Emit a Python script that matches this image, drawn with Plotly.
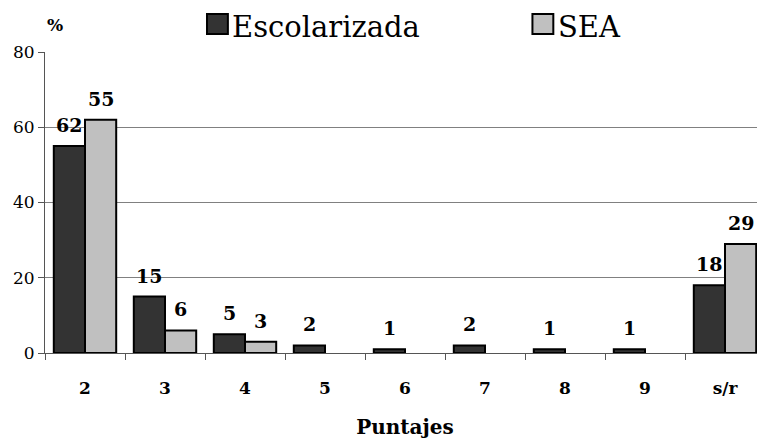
import plotly.graph_objects as go

categories = ["2", "3", "4", "5", "6", "7", "8", "9", "s/r"]
escolarizada = [55, 15, 5, 2, 1, 2, 1, 1, 18]
sea = [62, 6, 3, None, None, None, None, None, 29]
esc_labels = ["62", "15", "5", "2", "1", "2", "1", "1", "18"]
sea_labels = ["55", "6", "3", "", "", "", "", "", "29"]
y_ticks = [0, 20, 40, 60, 80]
series_names = ["Escolarizada", "SEA"]
series_colors = ["#333333", "#c0c0c0"]

FONT = "DejaVu Serif"
lbl_font = dict(family=FONT, size=19, color="black")

fig = go.Figure()
fig.add_trace(go.Bar(
    x=categories, y=escolarizada, name=series_names[0], showlegend=False,
    marker=dict(color=series_colors[0], line=dict(color="black", width=2)),
))
fig.add_trace(go.Bar(
    x=categories, y=sea, name=series_names[1], showlegend=False,
    marker=dict(color=series_colors[1], line=dict(color="black", width=2)),
))

annotations = []
BAR_HALF = 15.6
for i, (v, t) in enumerate(zip(escolarizada, esc_labels)):
    if t:
        annotations.append(dict(x=i, y=v, text="<b>%s</b>" % t, xshift=-BAR_HALF, yshift=8,
                                yanchor="bottom", showarrow=False, font=lbl_font))
for i, (v, t) in enumerate(zip(sea, sea_labels)):
    if t and v is not None:
        annotations.append(dict(x=i, y=v, text="<b>%s</b>" % t, xshift=BAR_HALF, yshift=8,
                                yanchor="bottom", showarrow=False, font=lbl_font))
annotations.append(dict(text="<b>%</b>", xref="paper", yref="paper", x=0.0, y=1.0,
                        xanchor="left", yanchor="bottom", yshift=15, showarrow=False,
                        font=dict(family=FONT, size=17, color="black")))

# manual legend (large boxes like the reference)
legend_box_x = [0.225, 0.677]
shapes = []
for name, color, bx in zip(series_names, series_colors, legend_box_x):
    shapes.append(dict(type="rect", xref="paper", yref="paper",
                       x0=bx, x1=bx + 0.029, y0=1.06, y1=1.126,
                       fillcolor=color, line=dict(color="black", width=2)))
    annotations.append(dict(text=name, xref="paper", yref="paper", x=bx + 0.034, y=1.082,
                            xanchor="left", yanchor="middle", showarrow=False, borderpad=0,
                            font=dict(family=FONT, size=29, color="black")))

fig.update_layout(
    width=757, height=433,
    margin=dict(l=37, r=0, t=44, b=88, autoexpand=False),
    paper_bgcolor="white", plot_bgcolor="white",
    barmode="group", bargap=0.22, bargroupgap=0,
    font=dict(family=FONT, color="black"),
    showlegend=False,
    xaxis=dict(
        type="category", showgrid=False, showline=True, linecolor="#555555", linewidth=1,
        ticks="outside", ticklen=6, tickcolor="#555555", tickson="boundaries",
        tickfont=dict(family=FONT, size=17, color="black"),
        ticklabelstandoff=20, automargin=False,
        range=[-0.5, len(categories) - 0.5],
        tickprefix="<b>", ticksuffix="</b>",
        title=dict(text="<b>Puntajes</b>", font=dict(family=FONT, size=20, color="black"), standoff=22),
    ),
    yaxis=dict(
        range=[0, 80], tickvals=y_ticks, showgrid=True, gridcolor="#808080", gridwidth=1,
        showline=True, linecolor="#555555", linewidth=1, ticks="outside", ticklen=6,
        tickcolor="#555555", zeroline=False, automargin=False,
        tickfont=dict(family=FONT, size=17, color="black"),
        tickprefix="<b>", ticksuffix="</b>",
    ),
    shapes=shapes,
    annotations=annotations,
)

fig.write_html("out.html")
